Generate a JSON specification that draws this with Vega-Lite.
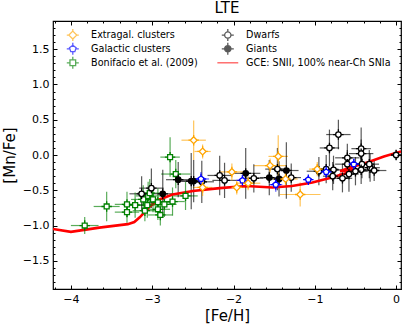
{
  "$schema": "https://vega.github.io/schema/vega-lite/v6.json",
  "width": 348,
  "height": 268,
  "autosize": "none",
  "padding": {"left": 53, "top": 21, "right": 6, "bottom": 37},
  "title": {"text": "LTE", "fontSize": 15, "fontWeight": "normal", "offset": 5, "color": "black", "font": "DejaVu Sans"},
  "config": {
    "font": "DejaVu Sans",
    "view": {"stroke": "black", "strokeWidth": 1.2},
    "axis": {"grid": false, "labelColor": "black", "titleColor": "black", "tickColor": "black", "domainColor": "black", "labelFlush": false, "labelOverlap": false}
  },
  "datasets": {
    "pts": [
      {"g": "Bonifacio et al. (2009)", "x": -3.83, "y": -1.00, "x0": -4.00, "x1": -3.66, "y0": -1.12, "y1": -0.88},
      {"g": "Bonifacio et al. (2009)", "x": -3.56, "y": -0.73, "x0": -3.72, "x1": -3.40, "y0": -0.94, "y1": -0.52},
      {"g": "Bonifacio et al. (2009)", "x": -3.31, "y": -0.70, "x0": -3.46, "x1": -3.16, "y0": -0.88, "y1": -0.52},
      {"g": "Bonifacio et al. (2009)", "x": -3.31, "y": -0.81, "x0": -3.46, "x1": -3.16, "y0": -0.96, "y1": -0.66},
      {"g": "Bonifacio et al. (2009)", "x": -3.21, "y": -0.71, "x0": -3.36, "x1": -3.06, "y0": -0.89, "y1": -0.53},
      {"g": "Bonifacio et al. (2009)", "x": -3.11, "y": -0.63, "x0": -3.26, "x1": -2.96, "y0": -0.83, "y1": -0.43},
      {"g": "Bonifacio et al. (2009)", "x": -3.09, "y": -0.79, "x0": -3.24, "x1": -2.94, "y0": -0.94, "y1": -0.64},
      {"g": "Bonifacio et al. (2009)", "x": -3.06, "y": -0.71, "x0": -3.21, "x1": -2.91, "y0": -0.89, "y1": -0.53},
      {"g": "Bonifacio et al. (2009)", "x": -3.05, "y": -0.58, "x0": -3.20, "x1": -2.90, "y0": -0.78, "y1": -0.38},
      {"g": "Bonifacio et al. (2009)", "x": -2.99, "y": -0.63, "x0": -3.14, "x1": -2.84, "y0": -0.81, "y1": -0.45},
      {"g": "Bonifacio et al. (2009)", "x": -2.93, "y": -0.67, "x0": -3.08, "x1": -2.78, "y0": -0.87, "y1": -0.47},
      {"g": "Bonifacio et al. (2009)", "x": -2.93, "y": -0.77, "x0": -3.08, "x1": -2.78, "y0": -0.92, "y1": -0.62},
      {"g": "Bonifacio et al. (2009)", "x": -2.90, "y": -0.85, "x0": -3.05, "x1": -2.75, "y0": -1.00, "y1": -0.70},
      {"g": "Bonifacio et al. (2009)", "x": -2.85, "y": -0.70, "x0": -3.00, "x1": -2.70, "y0": -0.88, "y1": -0.52},
      {"g": "Bonifacio et al. (2009)", "x": -2.75, "y": -0.66, "x0": -2.90, "x1": -2.60, "y0": -0.86, "y1": -0.46},
      {"g": "Bonifacio et al. (2009)", "x": -2.59, "y": -0.58, "x0": -2.74, "x1": -2.44, "y0": -0.78, "y1": -0.38},
      {"g": "Bonifacio et al. (2009)", "x": -2.71, "y": -0.27, "x0": -2.89, "x1": -2.53, "y0": -0.47, "y1": -0.07},
      {"g": "Bonifacio et al. (2009)", "x": -2.78, "y": -0.03, "x0": -2.90, "x1": -2.66, "y0": -0.31, "y1": 0.25},
      {"g": "Bonifacio et al. (2009)", "x": -3.03, "y": -0.54, "x0": -3.18, "x1": -2.88, "y0": -0.74, "y1": -0.34},
      {"g": "Dwarfs", "x": -3.13, "y": -0.55, "x0": -3.28, "x1": -2.98, "y0": -0.80, "y1": -0.30},
      {"g": "Dwarfs", "x": -3.01, "y": -0.47, "x0": -3.16, "x1": -2.86, "y0": -0.75, "y1": -0.19},
      {"g": "Dwarfs", "x": -2.39, "y": -0.38, "x0": -2.54, "x1": -2.24, "y0": -0.68, "y1": -0.08},
      {"g": "Dwarfs", "x": -2.17, "y": -0.29, "x0": -2.32, "x1": -2.02, "y0": -0.57, "y1": -0.01},
      {"g": "Dwarfs", "x": -2.11, "y": -0.36, "x0": -2.26, "x1": -1.96, "y0": -0.61, "y1": -0.11},
      {"g": "Dwarfs", "x": -1.75, "y": -0.33, "x0": -1.87, "x1": -1.63, "y0": -0.53, "y1": -0.13},
      {"g": "Dwarfs", "x": -1.46, "y": -0.20, "x0": -1.61, "x1": -1.31, "y0": -0.50, "y1": 0.10},
      {"g": "Dwarfs", "x": -1.29, "y": -0.32, "x0": -1.41, "x1": -1.17, "y0": -0.52, "y1": -0.12},
      {"g": "Dwarfs", "x": -0.95, "y": -0.23, "x0": -1.10, "x1": -0.80, "y0": -0.43, "y1": -0.03},
      {"g": "Dwarfs", "x": -0.86, "y": -0.20, "x0": -1.01, "x1": -0.71, "y0": -0.40, "y1": 0.00},
      {"g": "Dwarfs", "x": -0.82, "y": 0.10, "x0": -0.94, "x1": -0.70, "y0": -0.16, "y1": 0.36},
      {"g": "Dwarfs", "x": -0.71, "y": 0.29, "x0": -0.86, "x1": -0.56, "y0": 0.08, "y1": 0.50},
      {"g": "Dwarfs", "x": -0.77, "y": -0.21, "x0": -0.92, "x1": -0.62, "y0": -0.41, "y1": -0.01},
      {"g": "Dwarfs", "x": -0.78, "y": -0.30, "x0": -0.90, "x1": -0.66, "y0": -0.50, "y1": -0.10},
      {"g": "Dwarfs", "x": -0.66, "y": -0.33, "x0": -0.78, "x1": -0.54, "y0": -0.53, "y1": -0.13},
      {"g": "Dwarfs", "x": -0.60, "y": -0.04, "x0": -0.75, "x1": -0.45, "y0": -0.24, "y1": 0.16},
      {"g": "Dwarfs", "x": -0.60, "y": -0.13, "x0": -0.75, "x1": -0.45, "y0": -0.33, "y1": 0.07},
      {"g": "Dwarfs", "x": -0.58, "y": -0.27, "x0": -0.70, "x1": -0.46, "y0": -0.52, "y1": -0.02},
      {"g": "Dwarfs", "x": -0.43, "y": 0.09, "x0": -0.55, "x1": -0.31, "y0": -0.21, "y1": 0.39},
      {"g": "Dwarfs", "x": -0.43, "y": 0.02, "x0": -0.58, "x1": -0.28, "y0": -0.18, "y1": 0.22},
      {"g": "Dwarfs", "x": -0.42, "y": -0.13, "x0": -0.54, "x1": -0.30, "y0": -0.33, "y1": 0.07},
      {"g": "Dwarfs", "x": -0.43, "y": -0.21, "x0": -0.58, "x1": -0.28, "y0": -0.41, "y1": -0.01},
      {"g": "Dwarfs", "x": -0.50, "y": -0.23, "x0": -0.65, "x1": -0.35, "y0": -0.43, "y1": -0.03},
      {"g": "Dwarfs", "x": -0.32, "y": -0.18, "x0": -0.44, "x1": -0.20, "y0": -0.38, "y1": 0.02},
      {"g": "Dwarfs", "x": -0.27, "y": -0.22, "x0": -0.42, "x1": -0.12, "y0": -0.37, "y1": -0.07},
      {"g": "Dwarfs", "x": -0.33, "y": -0.13, "x0": -0.45, "x1": -0.21, "y0": -0.33, "y1": 0.07},
      {"g": "Dwarfs", "x": 0.00, "y": 0.00, "x0": -0.07, "x1": 0.07, "y0": -0.07, "y1": 0.07},
      {"g": "Giants", "x": -2.87, "y": -0.55, "x0": -3.03, "x1": -2.71, "y0": -0.89, "y1": -0.21},
      {"g": "Giants", "x": -2.68, "y": -0.35, "x0": -2.83, "x1": -2.53, "y0": -0.60, "y1": -0.10},
      {"g": "Giants", "x": -2.52, "y": -0.37, "x0": -2.67, "x1": -2.37, "y0": -0.77, "y1": 0.03},
      {"g": "Giants", "x": -2.49, "y": -0.37, "x0": -2.64, "x1": -2.34, "y0": -0.67, "y1": -0.07},
      {"g": "Giants", "x": -1.85, "y": -0.26, "x0": -2.03, "x1": -1.67, "y0": -0.62, "y1": 0.10},
      {"g": "Giants", "x": -1.56, "y": -0.32, "x0": -1.68, "x1": -1.44, "y0": -0.57, "y1": -0.07},
      {"g": "Giants", "x": -1.44, "y": -0.34, "x0": -1.56, "x1": -1.32, "y0": -0.59, "y1": -0.09},
      {"g": "Giants", "x": -1.35, "y": -0.22, "x0": -1.50, "x1": -1.20, "y0": -0.62, "y1": 0.18},
      {"g": "Galactic clusters", "x": -2.40, "y": -0.34, "x0": -2.50, "x1": -2.30, "y0": -0.44, "y1": -0.24},
      {"g": "Galactic clusters", "x": -1.89, "y": -0.36, "x0": -1.97, "x1": -1.81, "y0": -0.44, "y1": -0.28},
      {"g": "Galactic clusters", "x": -1.48, "y": -0.42, "x0": -1.56, "x1": -1.40, "y0": -0.52, "y1": -0.32},
      {"g": "Galactic clusters", "x": -1.08, "y": -0.35, "x0": -1.13, "x1": -1.03, "y0": -0.40, "y1": -0.30},
      {"g": "Galactic clusters", "x": -0.86, "y": -0.24, "x0": -0.96, "x1": -0.76, "y0": -0.34, "y1": -0.14},
      {"g": "Galactic clusters", "x": -0.52, "y": -0.13, "x0": -0.60, "x1": -0.44, "y0": -0.21, "y1": -0.05},
      {"g": "Extragal. clusters", "x": -2.49, "y": 0.21, "x0": -2.64, "x1": -2.34, "y0": -0.07, "y1": 0.49},
      {"g": "Extragal. clusters", "x": -2.38, "y": 0.05, "x0": -2.48, "x1": -2.28, "y0": -0.05, "y1": 0.15},
      {"g": "Extragal. clusters", "x": -2.38, "y": -0.46, "x0": -2.50, "x1": -2.26, "y0": -0.58, "y1": -0.34},
      {"g": "Extragal. clusters", "x": -2.02, "y": -0.24, "x0": -2.17, "x1": -1.87, "y0": -0.36, "y1": -0.12},
      {"g": "Extragal. clusters", "x": -1.96, "y": -0.46, "x0": -2.08, "x1": -1.84, "y0": -0.56, "y1": -0.36},
      {"g": "Extragal. clusters", "x": -1.82, "y": -0.40, "x0": -1.97, "x1": -1.67, "y0": -0.50, "y1": -0.30},
      {"g": "Extragal. clusters", "x": -1.55, "y": -0.15, "x0": -1.75, "x1": -1.35, "y0": -0.25, "y1": -0.05},
      {"g": "Extragal. clusters", "x": -1.45, "y": -0.02, "x0": -1.57, "x1": -1.33, "y0": -0.32, "y1": 0.28},
      {"g": "Extragal. clusters", "x": -1.36, "y": -0.34, "x0": -1.51, "x1": -1.21, "y0": -0.44, "y1": -0.24},
      {"g": "Extragal. clusters", "x": -1.18, "y": -0.56, "x0": -1.43, "x1": -0.93, "y0": -0.73, "y1": -0.39},
      {"g": "Extragal. clusters", "x": -0.97, "y": -0.20, "x0": -1.07, "x1": -0.87, "y0": -0.30, "y1": -0.10}
    ],
    "gce": [
      {"g": "GCE: SNII, 100% near-Ch SNIa", "i": 0, "x": -4.22, "y": -1.05},
      {"g": "GCE: SNII, 100% near-Ch SNIa", "i": 1, "x": -4.00, "y": -1.09},
      {"g": "GCE: SNII, 100% near-Ch SNIa", "i": 2, "x": -3.65, "y": -1.03},
      {"g": "GCE: SNII, 100% near-Ch SNIa", "i": 3, "x": -3.30, "y": -0.98},
      {"g": "GCE: SNII, 100% near-Ch SNIa", "i": 4, "x": -3.22, "y": -0.95},
      {"g": "GCE: SNII, 100% near-Ch SNIa", "i": 5, "x": -3.15, "y": -0.88},
      {"g": "GCE: SNII, 100% near-Ch SNIa", "i": 6, "x": -3.03, "y": -0.73},
      {"g": "GCE: SNII, 100% near-Ch SNIa", "i": 7, "x": -2.91, "y": -0.63},
      {"g": "GCE: SNII, 100% near-Ch SNIa", "i": 8, "x": -2.75, "y": -0.56},
      {"g": "GCE: SNII, 100% near-Ch SNIa", "i": 9, "x": -2.50, "y": -0.51},
      {"g": "GCE: SNII, 100% near-Ch SNIa", "i": 10, "x": -2.17, "y": -0.47},
      {"g": "GCE: SNII, 100% near-Ch SNIa", "i": 11, "x": -1.84, "y": -0.44},
      {"g": "GCE: SNII, 100% near-Ch SNIa", "i": 12, "x": -1.52, "y": -0.46},
      {"g": "GCE: SNII, 100% near-Ch SNIa", "i": 13, "x": -1.28, "y": -0.44},
      {"g": "GCE: SNII, 100% near-Ch SNIa", "i": 14, "x": -1.03, "y": -0.39},
      {"g": "GCE: SNII, 100% near-Ch SNIa", "i": 15, "x": -0.79, "y": -0.32},
      {"g": "GCE: SNII, 100% near-Ch SNIa", "i": 16, "x": -0.60, "y": -0.25},
      {"g": "GCE: SNII, 100% near-Ch SNIa", "i": 17, "x": -0.50, "y": -0.20},
      {"g": "GCE: SNII, 100% near-Ch SNIa", "i": 18, "x": -0.69, "y": -0.23},
      {"g": "GCE: SNII, 100% near-Ch SNIa", "i": 19, "x": -0.55, "y": -0.17},
      {"g": "GCE: SNII, 100% near-Ch SNIa", "i": 20, "x": -0.39, "y": -0.12},
      {"g": "GCE: SNII, 100% near-Ch SNIa", "i": 21, "x": -0.15, "y": -0.02},
      {"g": "GCE: SNII, 100% near-Ch SNIa", "i": 22, "x": 0.06, "y": 0.05}
    ]
  },
  "layer": [
    {
      "data": {"name": "pts"},
      "mark": {"type": "rule", "strokeWidth": 1.2, "opacity": 0.65},
      "encoding": {
        "x": {"field": "x0", "type": "quantitative", "scale": {"domain": [-4.22, 0.06], "nice": false, "zero": false},
          "axis": {"orient": "bottom", "values": [-4, -3, -2, -1, 0], "format": "d", "ticks": false, "domain": false, "labelFontSize": 11, "labelPadding": 4, "title": "[Fe/H]", "titleFontSize": 15, "titleFontWeight": "normal", "titlePadding": 4}},
        "x2": {"field": "x1"},
        "y": {"field": "y", "type": "quantitative", "scale": {"domain": [-1.9, 1.9], "nice": false, "zero": false},
          "axis": {"orient": "left", "values": [-1.5, -1, -0.5, 0, 0.5, 1, 1.5], "format": ".1f", "ticks": false, "domain": false, "labelFontSize": 11, "labelPadding": 4, "title": "[Mn/Fe]", "titleFontSize": 15, "titleFontWeight": "normal", "titlePadding": 5}},
        "color": {"field": "g", "type": "nominal"}
      }
    },
    {
      "data": {"name": "pts"},
      "mark": {"type": "rule", "strokeWidth": 1.2, "opacity": 0.65},
      "encoding": {
        "x": {"field": "x", "type": "quantitative",
          "axis": {"orient": "top", "values": [-4, -3, -2, -1, 0], "labels": false, "domain": false, "title": null, "tickSize": -4, "zindex": 1}},
        "y": {"field": "y0", "type": "quantitative",
          "axis": {"orient": "right", "values": [-1.5, -1, -0.5, 0, 0.5, 1, 1.5], "labels": false, "domain": false, "title": null, "tickSize": -4, "zindex": 1}},
        "y2": {"field": "y1"},
        "color": {"field": "g", "type": "nominal"}
      }
    },
    {
      "data": {"name": "gce"},
      "mark": {"type": "line", "strokeWidth": 2.6, "clip": true},
      "encoding": {
        "x": {"field": "x", "type": "quantitative",
          "axis": {"orient": "bottom", "values": [-4, -3, -2, -1, 0], "labels": false, "domain": false, "title": null, "tickSize": -4, "zindex": 1}},
        "y": {"field": "y", "type": "quantitative",
          "axis": {"orient": "left", "values": [-1.5, -1, -0.5, 0, 0.5, 1, 1.5], "labels": false, "domain": false, "title": null, "tickSize": -4, "zindex": 1}},
        "color": {"field": "g", "type": "nominal"},
        "order": {"field": "i", "type": "quantitative"}
      }
    },
    {
      "data": {"name": "pts"},
      "mark": {"type": "point", "filled": false, "size": 30, "opacity": 1},
      "encoding": {
        "x": {"field": "x", "type": "quantitative",
          "axis": {"orient": "bottom", "values": [-4.2, -4.0, -3.8, -3.6, -3.4, -3.2, -3.0, -2.8, -2.6, -2.4, -2.2, -2.0, -1.8, -1.6, -1.4, -1.2, -1.0, -0.8, -0.6, -0.4, -0.2, 0.0], "labels": false, "domain": false, "title": null, "tickSize": -2, "zindex": 1}},
        "y": {"field": "y", "type": "quantitative",
          "axis": {"orient": "left", "values": [-1.9, -1.8, -1.7, -1.6, -1.5, -1.4, -1.3, -1.2, -1.1, -1.0, -0.9, -0.8, -0.7, -0.6, -0.5, -0.4, -0.3, -0.2, -0.1, 0.0, 0.1, 0.2, 0.3, 0.4, 0.5, 0.6, 0.7, 0.8, 0.9, 1.0, 1.1, 1.2, 1.3, 1.4, 1.5, 1.6, 1.7, 1.8, 1.9], "labels": false, "domain": false, "title": null, "tickSize": -2, "zindex": 1}},
        "color": {"field": "g", "type": "nominal",
          "scale": {"domain": ["Extragal. clusters", "Galactic clusters", "Bonifacio et al. (2009)", "Dwarfs", "Giants", "GCE: SNII, 100% near-Ch SNIa"], "range": ["#FFA500", "#0000FF", "#008000", "black", "black", "#FF0000"]},
          "legend": {"orient": "none", "legendX": 15, "legendY": 9, "columns": 2, "title": null, "labelFontSize": 9.6, "labelColor": "black", "symbolSize": 40, "rowPadding": -4.3, "columnPadding": 16, "labelOffset": 13.5, "padding": 0}},
        "fill": {"field": "g", "type": "nominal",
          "scale": {"domain": ["Extragal. clusters", "Galactic clusters", "Bonifacio et al. (2009)", "Dwarfs", "Giants", "GCE: SNII, 100% near-Ch SNIa"], "range": ["white", "white", "white", "white", "black", "transparent"]}},
        "strokeWidth": {"field": "g", "type": "nominal",
          "scale": {"domain": ["Extragal. clusters", "Galactic clusters", "Bonifacio et al. (2009)", "Dwarfs", "Giants", "GCE: SNII, 100% near-Ch SNIa"], "range": [1.3, 1.3, 1.3, 1.3, 1.3, 3]}},
        "shape": {"field": "g", "type": "nominal",
          "scale": {"domain": ["Extragal. clusters", "Galactic clusters", "Bonifacio et al. (2009)", "Dwarfs", "Giants", "GCE: SNII, 100% near-Ch SNIa"],
            "range": [
              "M0,-1.25L1.25,0L0,1.25L-1.25,0Z M-1.9,0H-1.25 M1.25,0H1.9 M0,-1.9V-1.25 M0,1.25V1.9",
              "M0,-1.1L1.05,-0.34L0.65,0.89L-0.65,0.89L-1.05,-0.34Z M-1.9,0H-1.05 M1.05,0H1.9 M0,-1.9V-1.1 M0,0.89V1.9",
              "M-0.9,-0.9H0.9V0.9H-0.9Z M-1.9,0H-0.9 M0.9,0H1.9 M0,-1.9V-0.9 M0,0.9V1.9",
              "M1,0A1,1,0,1,1,-1,0A1,1,0,1,1,1,0Z M-1.9,0H-1 M1,0H1.9 M0,-1.9V-1 M0,1V1.9",
              "M1,0A1,1,0,1,1,-1,0A1,1,0,1,1,1,0Z M-1.9,0H-1 M1,0H1.9 M0,-1.9V-1 M0,1V1.9",
              "M-3.3,0H3.3"
            ]}}
      }
    },
    {
      "data": {"name": "pts"},
      "mark": {"type": "point", "opacity": 0},
      "encoding": {
        "x": {"field": "x", "type": "quantitative",
          "axis": {"orient": "top", "values": [-4.2, -4.0, -3.8, -3.6, -3.4, -3.2, -3.0, -2.8, -2.6, -2.4, -2.2, -2.0, -1.8, -1.6, -1.4, -1.2, -1.0, -0.8, -0.6, -0.4, -0.2, 0.0], "labels": false, "domain": false, "title": null, "tickSize": -2, "zindex": 1}},
        "y": {"field": "y", "type": "quantitative",
          "axis": {"orient": "right", "values": [-1.9, -1.8, -1.7, -1.6, -1.5, -1.4, -1.3, -1.2, -1.1, -1.0, -0.9, -0.8, -0.7, -0.6, -0.5, -0.4, -0.3, -0.2, -0.1, 0.0, 0.1, 0.2, 0.3, 0.4, 0.5, 0.6, 0.7, 0.8, 0.9, 1.0, 1.1, 1.2, 1.3, 1.4, 1.5, 1.6, 1.7, 1.8, 1.9], "labels": false, "domain": false, "title": null, "tickSize": -2, "zindex": 1}}
      }
    }
  ],
  "resolve": {"axis": {"x": "independent", "y": "independent"}}
}
